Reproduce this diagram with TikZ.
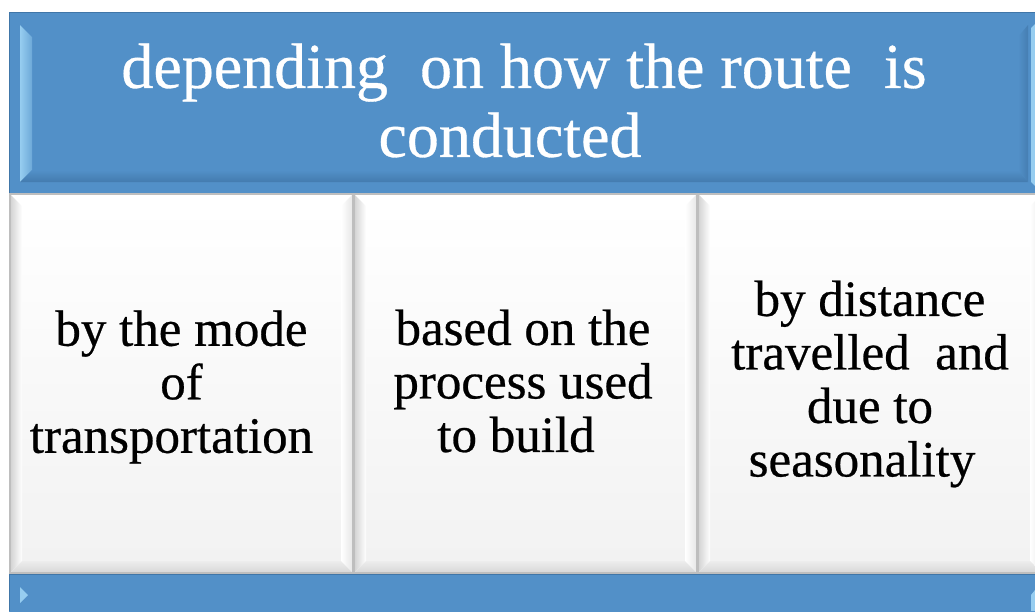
\documentclass[tikz,border=0pt]{standalone}
\usepackage{fontspec}
\setmainfont{Liberation Serif}[FakeBold=0.5]
\definecolor{barblue}{RGB}{82,144,200}
\definecolor{bardark}{RGB}{64,118,168}
\definecolor{barlight}{RGB}{150,205,240}
\definecolor{boxline}{RGB}{190,190,190}
\definecolor{facegray}{RGB}{242,242,242}
\newcommand\mybevbox[4]{%
  \fill[white] (#1,#2) rectangle (#3,#4);
  \shade[top color=white,bottom color=facegray] (#1+12,#2+12) rectangle (#3-12,#4-12);
  \shade[left color=black!18,right color=white] (#1,#2) -- (#1+12,#2+12) -- (#1+12,#4-12) -- (#1,#4) -- cycle;
  \shade[left color=white,right color=black!10] (#3,#2) -- (#3-12,#2+12) -- (#3-12,#4-12) -- (#3,#4) -- cycle;
  \shade[top color=black!7,bottom color=black!16] (#1,#4) -- (#1+12,#4-12) -- (#3-12,#4-12) -- (#3,#4) -- cycle;
  \draw[boxline,line width=1.2pt] (#1,#2) rectangle (#3,#4);
}
\begin{document}
\begin{tikzpicture}[x=1pt,y=-1pt,
  titletext/.style={text=white,align=center,inner sep=0pt,
    font=\fontsize{64}{69}\selectfont},
  boxtext/.style={text=black,align=center,inner sep=0pt,
    font=\fontsize{51}{53.5}\selectfont}]
\useasboundingbox (0,0) rectangle (1035,611);
\fill[white] (0,0) rectangle (1035,611);
\begin{scope}
\clip (0,0) rectangle (1035,611);
% top bar
\fill[barblue] (9,12) rectangle (1045,193);
\draw[bardark,line width=1pt] (9,12) rectangle (1045,193);
\shade[left color=barlight,right color=barblue!60!barlight] (20,25) -- (32,37) -- (32,170) -- (20,182) -- cycle;
\shade[top color=barblue,bottom color=bardark!80!barblue] (20,182) -- (32,170) -- (1018,170) -- (1028,182) -- cycle;
\shade[left color=barblue,right color=bardark!70!barblue] (1018,37) -- (1028,25) -- (1028,182) -- (1018,170) -- cycle;
\fill[barlight] (1031,28) -- (1035,24) -- (1035,186) -- (1031,182) -- cycle;
% white boxes
\mybevbox{10}{194}{353}{573}
\mybevbox{354}{194}{697}{573}
\mybevbox{698}{194}{1042}{573}
% bottom bar
\fill[barblue] (9,574) rectangle (1045,620);
\draw[bardark,line width=1pt] (9,574) -- (1045,574);
\draw[bardark,line width=1pt] (9,574) -- (9,611);
\fill[barlight] (20,587) -- (28,595) -- (20,603) -- cycle;
\fill[barlight] (1031,595) -- (1035,590) -- (1035,611) -- (1031,611) -- cycle;
\end{scope}
% texts
\node[titletext] (title) at (524,100.5) {depending\hspace{0.25em} on how the route\hspace{0.25em} is\\conducted\hspace*{28pt}};
\node[boxtext] (b1) at (181.5,387) {by the mode\\of\\transportation\hspace*{20pt}};
\node[boxtext] (b2) at (523,381) {based on the\\process used\\to build\hspace*{14pt}};
\node[boxtext] (b3) at (870,384) {by distance\\travelled\hspace{0.25em} and\\due to\\seasonality\hspace*{16pt}};
\end{tikzpicture}
\end{document}
